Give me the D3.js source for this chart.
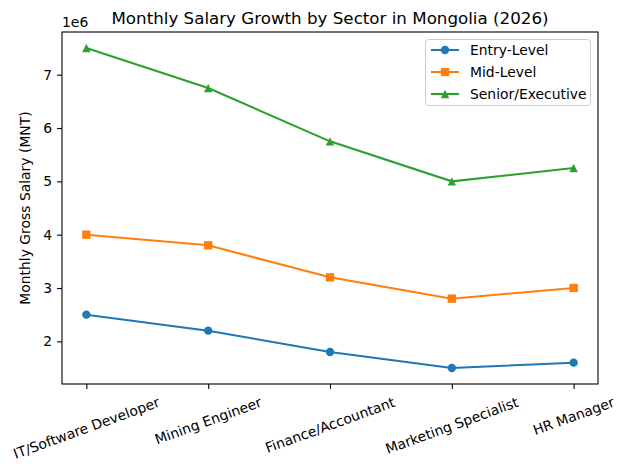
<!DOCTYPE html>
<html><head><meta charset="utf-8">
<script src="https://cdn.jsdelivr.net/npm/d3@7"></script>
<style>body{margin:0;background:#fff}svg{font-family:"DejaVu Sans",sans-serif}</style>
</head><body>
<svg id="c" width="626" height="470"></svg>
<script>
const categories = ["IT/Software Developer","Mining Engineer","Finance/Accountant","Marketing Specialist","HR Manager"];
const entryLevel = [2500000,2200000,1800000,1500000,1600000];
const midLevel = [4000000,3800000,3200000,2800000,3000000];
const seniorLevel = [7500000,6750000,5750000,5000000,5250000];
const yTicks = [2,3,4,5,6,7];
const seriesNames = ["Entry-Level","Mid-Level","Senior/Executive"];

const series = [
  {name: seriesNames[0], values: entryLevel, color: "#1f77b4", marker: "circle"},
  {name: seriesNames[1], values: midLevel, color: "#ff7f0e", marker: "square"},
  {name: seriesNames[2], values: seniorLevel, color: "#2ca02c", marker: "triangle"}
];

const svg = d3.select("#c");
const L = 62, R = 598, T = 32, B = 384;
const x = d3.scaleLinear().domain([-0.2, 4.2]).range([L, R]);
const y = d3.scaleLinear().domain([1.2e6, 7.8e6]).range([B, T]);
const fs = 13.9;

svg.append("text").attr("x", (L+R)/2).attr("y", 24).attr("text-anchor","middle")
  .attr("font-size", 16.7).text("Monthly Salary Growth by Sector in Mongolia (2026)");
svg.append("text").attr("x", L).attr("y", 27).attr("font-size", fs).text("1e6");

const yAxis = svg.append("g").attr("transform", `translate(${L},0)`)
  .call(d3.axisLeft(y).tickValues(yTicks.map(v => v*1e6)).tickFormat(d => d/1e6).tickSize(4.9).tickPadding(4.9));
yAxis.select(".domain").remove();
yAxis.selectAll("text").attr("font-size", fs).attr("fill","#000").attr("font-family","DejaVu Sans");
yAxis.selectAll("line").attr("stroke","#000").attr("stroke-width",1.1);

const xAxis = svg.append("g").attr("transform", `translate(0,${B})`)
  .call(d3.axisBottom(x).tickValues(d3.range(categories.length)).tickFormat(() => "").tickSize(4.9));
xAxis.select(".domain").remove();
xAxis.selectAll("line").attr("stroke","#000").attr("stroke-width",1.1);

const ang = 20 * Math.PI / 180;
categories.forEach((c, i) => {
  const t = svg.append("text").attr("font-size", fs).attr("text-anchor","middle")
    .attr("dominant-baseline","central").text(c);
  const w = t.node().getComputedTextLength();
  const h = fs * 1.17;
  const bh = w * Math.sin(ang) + h * Math.cos(ang);
  const cx = x(i), cy = B + 4.9 + 4.9 + bh/2;
  t.attr("transform", `translate(${cx},${cy}) rotate(-20)`);
});

svg.append("text").attr("transform", `translate(30,${(T+B)/2}) rotate(-90)`)
  .attr("text-anchor","middle").attr("font-size", fs).text("Monthly Gross Salary (MNT)");

const line = d3.line().x((d,i) => x(i)).y(d => y(d));
function drawMarker(g, type, cx, cy, color) {
  const s = 8.33;
  if (type === "circle") g.append("circle").attr("cx",cx).attr("cy",cy).attr("r",s/2).attr("fill",color);
  else if (type === "square") g.append("rect").attr("x",cx-s/2).attr("y",cy-s/2).attr("width",s).attr("height",s).attr("fill",color);
  else g.append("path").attr("d",`M${cx},${cy-s/2}L${cx-s/2},${cy+s/2}L${cx+s/2},${cy+s/2}Z`).attr("fill",color);
}
series.forEach(s => {
  svg.append("path").attr("d", line(s.values)).attr("fill","none").attr("stroke", s.color).attr("stroke-width", 2.08);
  const g = svg.append("g");
  s.values.forEach((v,i) => drawMarker(g, s.marker, x(i), y(v), s.color));
});

svg.append("rect").attr("x",L).attr("y",T).attr("width",R-L).attr("height",B-T)
  .attr("fill","none").attr("stroke","#000").attr("stroke-width",1.1);

const lg = svg.append("g");
lg.append("rect").attr("x",425.5).attr("y",39.5).attr("width",165).attr("height",66).attr("rx",3)
  .attr("fill","#fff").attr("fill-opacity",0.8).attr("stroke","#ccc").attr("stroke-width",1);
series.forEach((s,i) => {
  const yy = 50 + i*22;
  lg.append("line").attr("x1",431).attr("x2",459).attr("y1",yy).attr("y2",yy).attr("stroke",s.color).attr("stroke-width",2.08);
  drawMarker(lg, s.marker, 445, yy, s.color);
  lg.append("text").attr("x",470).attr("y",yy).attr("dominant-baseline","central").attr("font-size",fs).text(s.name);
});
</script>
</body></html>
